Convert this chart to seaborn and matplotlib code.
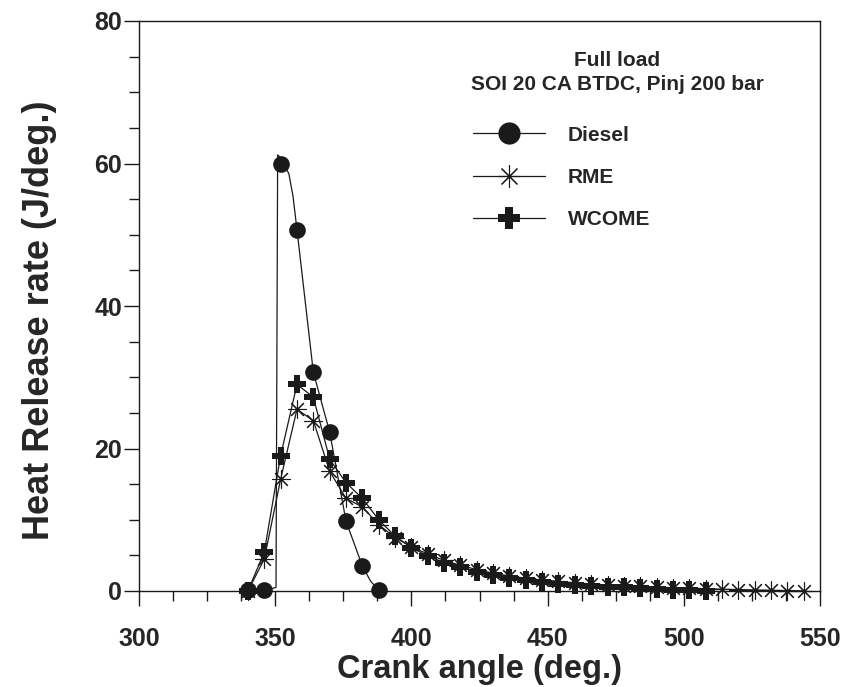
import matplotlib
matplotlib.use("Agg")
import matplotlib.pyplot as plt
import seaborn as sns
import numpy as np
from matplotlib.lines import Line2D
from matplotlib.ticker import MultipleLocator

# ---------------- data ----------------
diesel_x = [340, 346, 352, 358, 364, 370, 376, 382, 388]
diesel_y = [0.1, 0.1, 60.0, 50.7, 30.7, 22.3, 9.8, 3.5, 0.1]

# Diesel curve (as drawn, including the sharp rise near 351 deg)
diesel_line_x = [340, 346, 350.3, 350.9, 351.5, 352, 353.5, 355, 356.5, 358, 364, 370, 376, 382, 385, 388]
diesel_line_y = [0.0, 0.1, 0.5, 61.2, 61.0, 60.0, 59.6, 58.6, 55.5, 50.7, 30.7, 22.3, 9.8, 3.5, 1.4, 0.1]

rme_x = [340, 346, 352, 358, 364, 370, 376, 382, 388, 394, 400, 406, 412, 418, 424,
         430, 436, 442, 448, 454, 460, 466, 472, 478, 484, 490, 496, 502, 508, 514,
         520, 526, 532, 538, 544]
rme_y = [0.0, 4.5, 15.7, 25.5, 23.9, 16.8, 13.0, 11.8, 9.3, 7.5, 6.2, 5.2, 4.3, 3.6, 3.0,
         2.5, 2.1, 1.8, 1.55, 1.35, 1.15, 1.0, 0.85, 0.75, 0.65, 0.55, 0.45, 0.4, 0.32, 0.25,
         0.2, 0.15, 0.1, 0.06, 0.03]

wcome_x = [340, 346, 352, 358, 364, 370, 376, 382, 388, 394, 400, 406, 412, 418, 424,
           430, 436, 442, 448, 454, 460, 466, 472, 478, 484, 490, 496, 502, 508]
wcome_y = [0.0, 5.5, 19.0, 29.0, 27.2, 18.5, 15.2, 13.0, 10.0, 7.7, 6.1, 4.9, 4.0, 3.3, 2.7,
           2.2, 1.8, 1.5, 1.25, 1.05, 0.9, 0.75, 0.6, 0.5, 0.4, 0.3, 0.2, 0.12, 0.05]

series_names = ["Diesel", "RME", "WCOME"]
x_ticks = [300, 350, 400, 450, 500, 550]
y_ticks = [0, 20, 40, 60, 80]
title_lines = ["Full load", "SOI 20 CA BTDC, Pinj 200 bar"]

# ---------------- style ----------------
sns.set_theme(style="white")
plt.rcParams["font.family"] = ["Liberation Sans", "DejaVu Sans"]
plt.rcParams["font.weight"] = "bold"

fig = plt.figure(figsize=(8.43, 6.87), dpi=100)
ax = fig.add_axes([139 / 843, 1 - 591 / 687, (820 - 139) / 843, (591 - 21) / 687])

lw = 0.9
ast = (8, 2, 0)

# lines
sns.lineplot(x=rme_x, y=rme_y, ax=ax, color="k", lw=lw, estimator=None, sort=False, zorder=3)
sns.lineplot(x=wcome_x, y=wcome_y, ax=ax, color="k", lw=lw, estimator=None, sort=False, zorder=4)
sns.lineplot(x=diesel_line_x, y=diesel_line_y, ax=ax, color="k", lw=lw, estimator=None, sort=False, zorder=5)

# markers
sns.scatterplot(x=rme_x, y=rme_y, ax=ax, marker=ast, s=12.5 ** 2, color="k",
                edgecolor="k", linewidth=0.8, zorder=6, clip_on=False)
sns.scatterplot(x=wcome_x, y=wcome_y, ax=ax, marker="P", s=12.5 ** 2, color="k",
                edgecolor="k", linewidth=0, zorder=7, clip_on=False)
sns.scatterplot(x=diesel_x, y=diesel_y, ax=ax, marker="o", s=12 ** 2, color="k",
                edgecolor="k", linewidth=0, zorder=8, clip_on=False)

ax.set_xlim(300, 550)
ax.set_ylim(0, 80)
ax.set_xticks(x_ticks)
ax.set_yticks(y_ticks)
ax.xaxis.set_minor_locator(MultipleLocator(12.5))
ax.yaxis.set_minor_locator(MultipleLocator(5))
ax.tick_params(axis="both", which="major", direction="out", length=11, width=1,
               color="k", labelsize=18, bottom=True, left=True)
ax.tick_params(axis="both", which="minor", direction="out", length=7, width=1,
               color="k", bottom=True, left=True)
ax.tick_params(axis="x", which="major", pad=15)
ax.tick_params(axis="y", which="major", pad=1)
for lab in ax.get_xticklabels() + ax.get_yticklabels():
    lab.set_fontweight("bold")

for sp in ax.spines.values():
    sp.set_color("k")
    sp.set_linewidth(1)
    sp.set_visible(True)

ax.set_xlabel("Crank angle (deg.)", fontsize=23.5, fontweight="bold", labelpad=2)
ax.set_ylabel("Heat Release rate (J/deg.)", fontsize=26, fontweight="bold")
ax.yaxis.set_label_coords(57 / 843, 1 - 320 / 687, transform=fig.transFigure)

# annotation
ax.text(617 / 843, 1 - 60 / 687, title_lines[0], transform=fig.transFigure,
        ha="center", va="center", fontsize=15, fontweight="bold")
ax.text(617 / 843, 1 - 85 / 687, title_lines[1], transform=fig.transFigure,
        ha="center", va="center", fontsize=15, fontweight="bold")

handles = [
    Line2D([], [], color="k", lw=lw, marker="o", markersize=16, markeredgewidth=0),
    Line2D([], [], color="k", lw=lw, marker=ast, markersize=16, markeredgewidth=0.8),
    Line2D([], [], color="k", lw=lw, marker="P", markersize=16, markeredgewidth=0),
]
leg = ax.legend(handles, series_names, loc="upper left",
                bbox_to_anchor=(454 / 843, 1 - 107 / 687), bbox_transform=fig.transFigure,
                frameon=False, handlelength=3.46, handletextpad=1.1, labelspacing=1.12,
                prop={"size": 15, "weight": "bold"})

fig.savefig("out.png", dpi=100)
